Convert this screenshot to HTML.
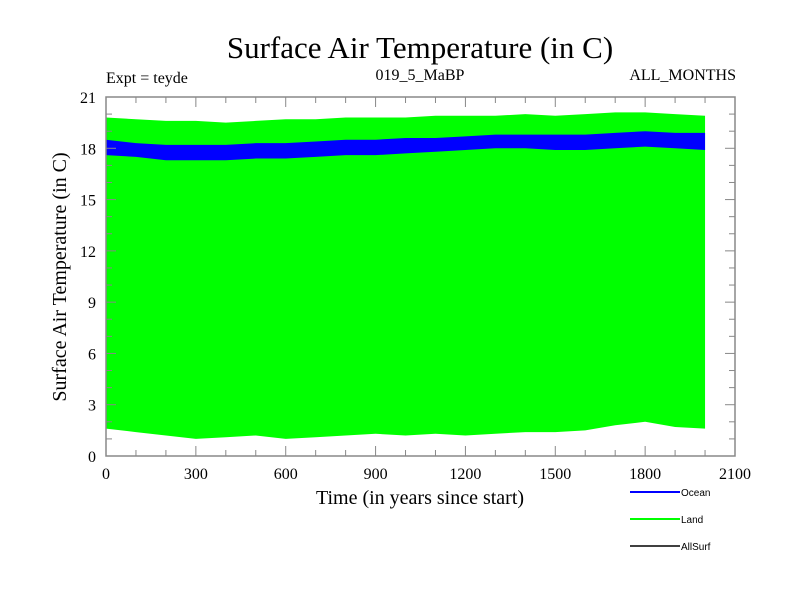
<!DOCTYPE html>
<html><head><meta charset="utf-8"><style>
body{margin:0;background:#fff;}
svg text{font-family:"Liberation Serif",serif;}
</style></head><body>
<svg id="chart" width="800" height="600" xmlns="http://www.w3.org/2000/svg">
<rect width="800" height="600" fill="#fff"/>
<text x="420" y="58" font-size="31" text-anchor="middle">Surface Air Temperature (in C)</text>
<text x="106" y="83" font-size="16">Expt = teyde</text>
<text x="420" y="80" font-size="16" text-anchor="middle">019_5_MaBP</text>
<text x="736" y="80" font-size="16" text-anchor="end">ALL_MONTHS</text>
<g id="plot"></g>
<g id="axes"></g>
<text x="420" y="504" font-size="20" text-anchor="middle">Time (in years since start)</text>
<text transform="translate(66,277) rotate(-90)" font-size="20" text-anchor="middle">Surface Air Temperature (in C)</text>
<g font-family="Liberation Sans, sans-serif">
<line x1="630" y1="492" x2="680" y2="492" stroke="#0000ff" stroke-width="2"/>
<text x="681" y="496" font-size="10" style="font-family:'Liberation Sans',sans-serif">Ocean</text>
<line x1="630" y1="519" x2="680" y2="519" stroke="#00ff00" stroke-width="2"/>
<text x="681" y="523" font-size="10" style="font-family:'Liberation Sans',sans-serif">Land</text>
<line x1="630" y1="546" x2="680" y2="546" stroke="#000" stroke-width="1.5"/>
<text x="681" y="550" font-size="10" style="font-family:'Liberation Sans',sans-serif">AllSurf</text>
</g>
</svg>
<script>
const years=[0,100,200,300,400,500,600,700,800,900,1000,1100,1200,1300,1400,1500,1600,1700,1800,1900,2000];
const landUpper=[19.8,19.7,19.6,19.6,19.5,19.6,19.7,19.7,19.8,19.8,19.8,19.9,19.9,19.9,20.0,19.9,20.0,20.1,20.1,20.0,19.9];
const landLower=[1.6,1.4,1.2,1.0,1.1,1.2,1.0,1.1,1.2,1.3,1.2,1.3,1.2,1.3,1.4,1.4,1.5,1.8,2.0,1.7,1.6];
const oceanUpper=[18.5,18.3,18.2,18.2,18.2,18.3,18.3,18.4,18.5,18.5,18.6,18.6,18.7,18.8,18.8,18.8,18.8,18.9,19.0,18.9,18.9];
const oceanLower=[17.6,17.5,17.3,17.3,17.3,17.4,17.4,17.5,17.6,17.6,17.7,17.8,17.9,18.0,18.0,17.9,17.9,18.0,18.1,18.0,17.9];
const xTicks=[0,300,600,900,1200,1500,1800,2100];
const yTicks=[0,3,6,9,12,15,18,21];
const X0=106,X1=735,Y0=456,Y1=97;
const xs=v=>X0+(v/2100)*(X1-X0);
const ys=v=>Y0-(v/21)*(Y0-Y1);
const NS="http://www.w3.org/2000/svg";
const plot=document.getElementById('plot'),axes=document.getElementById('axes');
function band(up,lo,color,name){
  let pts=years.map((y,i)=>xs(y)+','+ys(up[i]));
  for(let i=years.length-1;i>=0;i--)pts.push(xs(years[i])+','+ys(lo[i]));
  const p=document.createElementNS(NS,'polygon');
  p.setAttribute('points',pts.join(' '));p.setAttribute('fill',color);
  
  
  plot.appendChild(p);
}
band(landUpper,landLower,'#00ff00','land-series');
band(oceanUpper,oceanLower,'#0000ff','ocean-series');
function ln(x1,y1,x2,y2,c,w){const l=document.createElementNS(NS,'line');l.setAttribute('x1',x1);l.setAttribute('y1',y1);l.setAttribute('x2',x2);l.setAttribute('y2',y2);l.setAttribute('stroke',c||'#888');l.setAttribute('stroke-width',w||1);axes.appendChild(l);return l;}
const fr=document.createElementNS(NS,'rect');
fr.setAttribute('x',X0);fr.setAttribute('y',Y1);fr.setAttribute('width',X1-X0);fr.setAttribute('height',Y0-Y1);
fr.setAttribute('fill','none');fr.setAttribute('stroke','#888');fr.setAttribute('stroke-width','1.5');


axes.appendChild(fr);
for(let v=0;v<=2100;v+=100){const maj=v%300===0,L=maj?10:6;ln(xs(v),Y0,xs(v),Y0-L);ln(xs(v),Y1,xs(v),Y1+L);}
for(let v=0;v<=21;v+=1){const maj=v%3===0,L=maj?10:6;ln(X0,ys(v),X0+L,ys(v));ln(X1,ys(v),X1-L,ys(v));}
xTicks.forEach(v=>{const t=document.createElementNS(NS,'text');t.setAttribute('x',xs(v));t.setAttribute('y',479);t.setAttribute('font-size','16');t.setAttribute('text-anchor','middle');t.textContent=v;


axes.appendChild(t);});
yTicks.forEach(v=>{const t=document.createElementNS(NS,'text');t.setAttribute('x',96);t.setAttribute('y',ys(v)+6);t.setAttribute('font-size','16');t.setAttribute('text-anchor','end');t.textContent=v;


axes.appendChild(t);});
</script>
</body></html>
